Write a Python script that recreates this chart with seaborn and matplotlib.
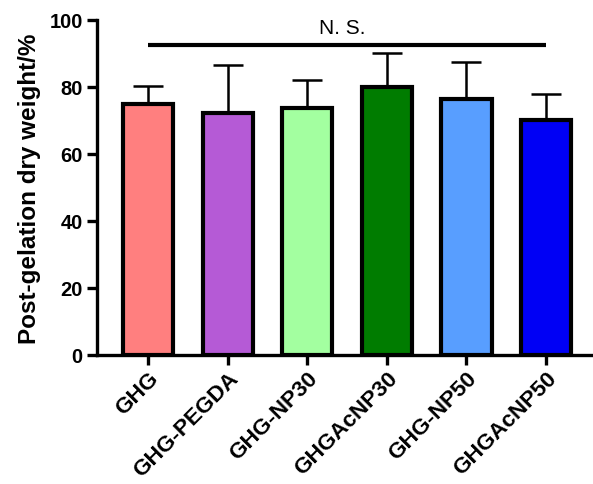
import numpy as np
import pandas as pd
import matplotlib
matplotlib.use("Agg")
import matplotlib.pyplot as plt
import seaborn as sns

groups = ["GHG", "GHG-PEGDA", "GHG-NP30", "GHGAcNP30", "GHG-NP50", "GHGAcNP50"]
means = [74.8, 72.3, 73.6, 80.1, 76.4, 70.2]
sds = [5.6, 14.2, 8.5, 9.9, 10.9, 7.8]
colors = ["#FF7F7F", "#B55AD6", "#A3FFA0", "#007C00", "#589EFF", "#0000F5"]
y_ticks = [0, 20, 40, 60, 80, 100]
sig_text = "N. S."
sig_level = 92.5

sns.set_theme(style="ticks")
plt.rcParams["font.family"] = ["Liberation Sans", "DejaVu Sans"]
plt.rcParams["font.weight"] = "bold"
for key in ["text.color", "axes.labelcolor", "xtick.color", "ytick.color",
            "axes.edgecolor"]:
    plt.rcParams[key] = "black"

df = pd.DataFrame({"group": groups, "value": means})

fig = plt.figure(figsize=(5.93, 4.85), dpi=100)
ax = fig.add_axes([0.163, 0.266, 0.837, 0.691])

sns.barplot(data=df, x="group", y="value", hue="group", palette=colors,
            order=groups, hue_order=groups, legend=False, width=0.63,
            saturation=1, edgecolor="black", linewidth=3.0, ax=ax, zorder=3)

x = np.arange(len(groups))
ax.errorbar(x, means, yerr=[np.zeros(len(sds)), sds], fmt="none",
            ecolor="black", elinewidth=1.8, capsize=11, capthick=1.8, zorder=2)

# significance bar across all groups
ax.plot([x[0], x[-1]], [sig_level, sig_level], color="black", lw=3.0,
        solid_capstyle="butt", clip_on=False)
ax.text((x[0] + x[-1]) / 2 - 0.06, 97.7, sig_text, ha="center", va="center",
        fontsize=15, fontweight="normal")

ax.set_ylim(0, 100)
ax.set_xlim(-0.645, 5.59)
ax.set_yticks(y_ticks)
ax.set_ylabel("Post-gelation dry weight/%", fontsize=17.5, fontweight="bold",
              labelpad=6)
ax.set_xlabel("")
ax.tick_params(axis="both", width=2.4, length=7, color="black", pad=3)
ax.tick_params(axis="y", labelsize=14.5)
ax.tick_params(axis="x", labelsize=16.2, pad=2)
plt.setp(ax.get_yticklabels(), fontweight="bold")
plt.setp(ax.get_xticklabels(), rotation=45, ha="right", rotation_mode="anchor",
         fontweight="bold")
for side in ["left", "bottom"]:
    ax.spines[side].set_linewidth(2.4)
sns.despine(ax=ax)

fig.savefig("out.png", dpi=100)
